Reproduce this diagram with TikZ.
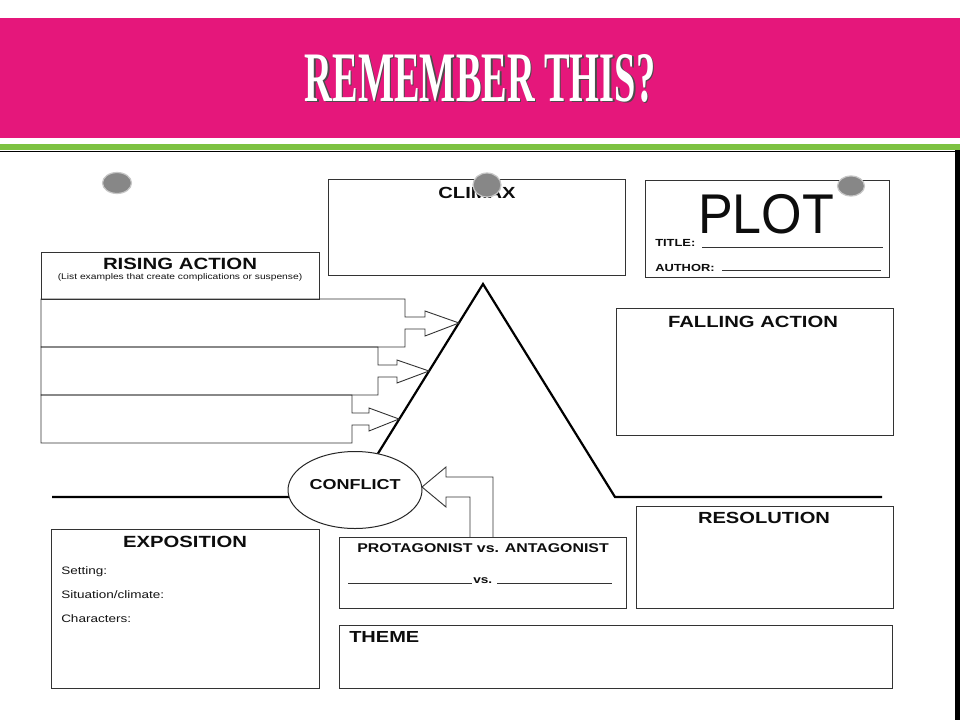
\documentclass[tikz,border=0pt]{standalone}
\usepackage{fontspec}
\setmainfont{Liberation Sans}
\newfontfamily\titlefont{Liberation Serif}
\usetikzlibrary{shapes.geometric}
\newcommand{\myfs}[1]{\fontsize{#1}{#1}\selectfont}
\definecolor{pinkbar}{HTML}{E5177B}
\definecolor{greenbar}{HTML}{7DC242}
\definecolor{pingray}{HTML}{878787}
\begin{document}
\begin{tikzpicture}[x=1pt,y=-1pt,
  box/.style={draw=black!80, line width=0.9pt, anchor=north west, inner sep=0pt, outer sep=0pt},
  lbl/.style={font=\bfseries, text=black!95, inner sep=0pt, xscale=1.25},
  txt/.style={text=black!92, inner sep=0pt, xscale=1.25},
  outline/.style={draw=black!80, line width=0.9pt, line join=miter},
  rule/.style={draw=black!80, line width=0.8pt},
  tri/.style={draw=black, line width=2.2pt, line join=miter},
  pin/.style={ellipse, fill=pingray, draw=black!22, line width=1.2pt, inner sep=0pt}]
\useasboundingbox (0,0) rectangle (960,720);
\fill[white] (0,0) rectangle (960,720);
% header band
\fill[pinkbar] (0,18) rectangle (960,138);
\fill[greenbar] (0,144) rectangle (960,150);
\draw[black, line width=1pt] (0,151) -- (956,151);
\fill[black] (955,150) rectangle (960,720);
\node[text=black!70, font=\titlefont\bfseries\myfs{71}, xscale=0.54, inner sep=0pt] at (481.5,79.5) {REMEMBER THIS?};
\node[text=white, font=\titlefont\bfseries\myfs{71}, xscale=0.54, inner sep=0pt] (title) at (480,78) {REMEMBER THIS?};

% boxes
\node[box, minimum width=297, minimum height=96] (climax) at (328,179) {};
\node[box, minimum width=244, minimum height=97] (plot) at (645,180) {};
\node[box, minimum width=278, minimum height=47] (rising) at (41,252) {};
\node[box, minimum width=277, minimum height=127] (falling) at (616,308) {};
\node[box, minimum width=257, minimum height=102] (resolution) at (636,506) {};
\node[box, minimum width=268, minimum height=159] (exposition) at (51,529) {};
\node[box, minimum width=287, minimum height=71] (protag) at (339,537) {};
\node[box, minimum width=553, minimum height=63] (theme) at (339,625) {};

% triangle and base line
\coordinate (apex) at (483,284);
\coordinate (baseL) at (351,497);
\coordinate (baseR) at (615,497);
\coordinate (lineL) at (52,497);
\coordinate (lineR) at (882,497);
\draw[tri] (lineL) -- (baseL) -- (apex) -- (baseR) -- (lineR);

% tips on the rising leg
\coordinate (tip1) at (459,323);
\coordinate (tip2) at (429,371);
\coordinate (tip3) at (399,419);

% rising action rows with arrows
\draw[outline] (41,299) -- (405,299) -- (405,317) -- (425,317) -- (425,311) -- (tip1)
  -- (425,336) -- (425,329) -- (405,329) -- (405,347) -- (41,347) -- cycle;
\draw[outline] (41,347) -- (378,347) -- (378,365) -- (397,365) -- (397,360) -- (tip2)
  -- (397,383) -- (397,377) -- (378,377) -- (378,395) -- (41,395) -- cycle;
\draw[outline] (41,395) -- (352,395) -- (352,413) -- (369,413) -- (369,408) -- (tip3)
  -- (369,431) -- (369,425) -- (352,425) -- (352,443) -- (41,443) -- cycle;

% conflict ellipse
\node[ellipse, draw=black!85, line width=1pt, fill=white, minimum width=134, minimum height=77, inner sep=0pt] (conflict) at (355,490) {};
\node[lbl, font=\bfseries\myfs{14.4}] at ([yshift=5pt]conflict.center) {CONFLICT};

% arrow from protagonist box to conflict
\coordinate (ctip) at (422,487);
\draw[outline] (470,537) -- (470,497) -- (446,497) -- (446,507) -- (ctip) -- (446,467)
  -- (446,477) -- (493,477) -- (493,537);

% texts
\node[lbl, font=\bfseries\myfs{16.1}] at (477,193) {CLIMAX};
\node[font=\myfs{56}, text=black!95, inner sep=0pt, xscale=0.93] at (766,214) {PLOT};
\node[lbl, font=\bfseries\myfs{10.3}, anchor=west] (ttl) at (655,243) {TITLE:};
\draw[rule] (702,247) -- (883,247);
\node[lbl, font=\bfseries\myfs{10.3}, anchor=west] (aut) at (655,268) {AUTHOR:};
\draw[rule] (722,270) -- (881,270);

\node[lbl, font=\bfseries\myfs{16.3}] at (180,263.5) {RISING ACTION};
\node[txt, font=\myfs{8.2}] at (180,277) {(List examples that create complications or suspense)};

\node[lbl, font=\bfseries\myfs{16.2}] at (753,322) {FALLING ACTION};
\node[lbl, font=\bfseries\myfs{16.1}] at (764,518) {RESOLUTION};
\node[lbl, font=\bfseries\myfs{16.2}] at (185,542) {EXPOSITION};

\node[txt, font=\myfs{10.8}, anchor=base west] at (61,574) {Setting:};
\node[txt, font=\myfs{10.8}, anchor=base west] at (61,598) {Situation/climate:};
\node[txt, font=\myfs{10.8}, anchor=base west] at (61,622) {Characters:};

\node[lbl, font=\bfseries\myfs{12.7}] at (483,548) {PROTAGONIST vs. ANTAGONIST};
\draw[rule] (348,583) -- (472,583);
\node[lbl, font=\bfseries\myfs{10.9}, anchor=base west] at (473,583) {vs.};
\draw[rule] (497,583) -- (612,583);

\node[lbl, font=\bfseries\myfs{16}, anchor=west] at (349,637) {THEME};

% push pins
\node[pin, minimum width=29, minimum height=21] (pinL) at (117,183) {};
\node[pin, minimum width=28, minimum height=24] (pinM) at (487,185) {};
\node[pin, minimum width=27, minimum height=20] (pinR) at (851,186) {};
\end{tikzpicture}
\end{document}
